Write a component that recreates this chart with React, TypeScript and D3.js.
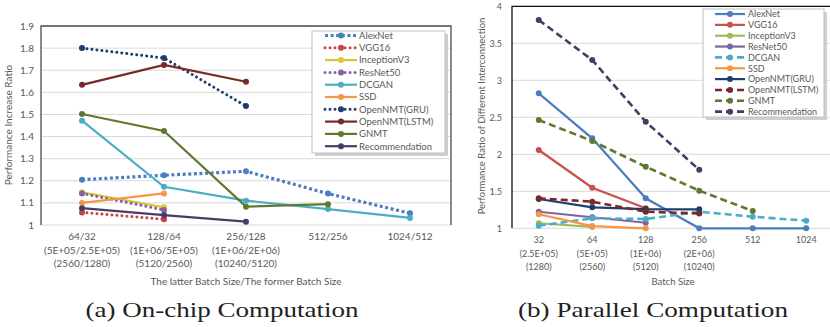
import React, { useRef, useEffect } from 'react';
import * as d3 from 'd3';

// ---- data ----
const seriesNames = ['AlexNet', 'VGG16', 'InceptionV3', 'ResNet50', 'DCGAN', 'SSD',
  'OpenNMT(GRU)', 'OpenNMT(LSTM)', 'GNMT', 'Recommendation'];

const chipCategories = ['64/32', '128/64', '256/128', '512/256', '1024/512'];
const chipSub1 = ['(5E+05/2.5E+05)', '(1E+06/5E+05)', '(1E+06/2E+06)', '', ''];
const chipSub2 = ['(2560/1280)', '(5120/2560)', '(10240/5120)', '', ''];
const chipTicks = [1, 1.1, 1.2, 1.3, 1.4, 1.5, 1.6, 1.7, 1.8, 1.9];

const chipAlexNet = [1.205, 1.225, 1.243, 1.142, 1.053];
const chipVGG16 = [1.057, 1.026];
const chipInception = [1.148, 1.08];
const chipResNet = [1.143, 1.068];
const chipDCGAN = [1.472, 1.173, 1.11, 1.072, 1.032];
const chipSSD = [1.1, 1.143];
const chipGRU = [1.8, 1.755, 1.538];
const chipLSTM = [1.634, 1.724, 1.648];
const chipGNMT = [1.502, 1.425, 1.083, 1.094];
const chipRecommend = [1.076, 1.045, 1.015];

const parCategories = ['32', '64', '128', '256', '512', '1024'];
const parSub1 = ['(2.5E+05)', '(5E+05)', '(1E+06)', '(2E+06)', '', ''];
const parSub2 = ['(1280)', '(2560)', '(5120)', '(10240)', '', ''];
const parTicks = [1, 1.5, 2, 2.5, 3, 3.5, 4];

const parAlexNet = [2.824, 2.216, 1.405, 1.0, 1.0, 1.0];
const parVGG16 = [2.058, 1.549, 1.27];
const parInception = [1.068, 1.018];
const parResNet = [1.224, 1.149, 1.075];
const parDCGAN = [1.035, 1.135, 1.126, 1.224, 1.157, 1.103];
const parSSD = [1.19, 1.03, 1.0];
const parGRU = [1.396, 1.284, 1.26, 1.257];
const parLSTM = [1.405, 1.36, 1.224, 1.2];
const parGNMT = [2.463, 2.18, 1.832, 1.508, 1.234];
const parRecommend = [3.815, 3.274, 2.44, 1.79];

const FONT = 'Lato, "Open Sans", sans-serif';
const TEXT = '#595959';

/**
 * Draw one line-chart panel (frame, grid, axes, lines, legend)
 */
function drawPanel(svg, cfg) {
  const { left, top, bandW, nCat, bottom, domain, ticks, tickFmt } = cfg;
  const x = d3.scaleBand().domain(d3.range(nCat)).range([left, left + bandW * nCat]);
  const y = d3.scaleLinear().domain(domain).range([bottom, top]);
  const cx = (i) => x(i) + x.bandwidth() / 2;
  const g = svg.append('g');

  // grid
  g.selectAll('line.grid')
    .data(ticks)
    .join('line')
    .attr('x1', left).attr('x2', cfg.right)
    .attr('y1', d => y(d)).attr('y2', d => y(d))
    .attr('stroke', '#d9d9d9').attr('stroke-width', 1);

  // frame
  g.append('path')
    .attr('d', `M${left},${bottom}V${top}H${cfg.right}` + (cfg.rightBorder ? `V${bottom}` : ''))
    .attr('fill', 'none').attr('stroke', cfg.frameColor).attr('stroke-width', 1.3);

  // y tick labels
  g.selectAll('text.yt')
    .data(ticks)
    .join('text')
    .attr('x', cfg.yLabelX).attr('y', d => y(d) + 3.5)
    .attr('text-anchor', 'end')
    .style('font-family', FONT).style('font-size', cfg.tickSize + 'px').attr('fill', TEXT)
    .text(tickFmt);

  // x tick labels
  const rows = [cfg.categories, cfg.sub1, cfg.sub2];
  rows.forEach((row, r) => {
    g.selectAll(`text.xt${r}`)
      .data(row)
      .join('text')
      .attr('x', (d, i) => cx(i))
      .attr('y', cfg.xLabelY[r])
      .attr('text-anchor', 'middle')
      .style('font-family', FONT).style('font-size', cfg.tickSize + 'px').attr('fill', TEXT)
      .text(d => d);
  });

  // axis titles
  g.append('text')
    .attr('x', cfg.xTitle[0]).attr('y', cfg.xTitle[1])
    .attr('text-anchor', 'middle')
    .style('font-family', FONT).style('font-size', cfg.titleSize + 'px').attr('fill', TEXT)
    .text(cfg.xTitleText);
  g.append('text')
    .attr('transform', `translate(${cfg.yTitle[0]},${cfg.yTitle[1]}) rotate(-90)`)
    .attr('text-anchor', 'middle')
    .style('font-family', FONT).style('font-size', cfg.titleSize + 'px').attr('fill', TEXT)
    .text(cfg.yTitleText);

  // caption
  g.append('text')
    .attr('x', cfg.caption[0]).attr('y', cfg.caption[1])
    .attr('text-anchor', 'middle')
    .attr('textLength', cfg.caption[2]).attr('lengthAdjust', 'spacingAndGlyphs')
    .style('font-family', '"Liberation Serif", serif').style('font-size', '21px').attr('fill', '#222')
    .text(cfg.captionText);

  // lines
  const line = d3.line().x((d, i) => cx(i)).y(d => y(d));
  cfg.series.forEach(s => {
    const ls = g.append('g');
    ls.append('path')
      .attr('d', line(s.values))
      .attr('fill', 'none')
      .attr('stroke', s.color)
      .attr('stroke-width', s.width)
      .attr('stroke-dasharray', s.dash || null)
      .attr('stroke-linecap', s.cap || 'butt');
    ls.selectAll('circle')
      .data(s.values)
      .join('circle')
      .attr('cx', (d, i) => cx(i)).attr('cy', d => y(d))
      .attr('r', cfg.markerR).attr('fill', s.color);
  });

  // legend
  const L = cfg.legend;
  const lg = svg.append('g');
  lg.append('rect')
    .attr('x', L.x + 3).attr('y', L.y + 3).attr('width', L.w).attr('height', L.h)
    .attr('fill', '#cfcfcf');
  lg.append('rect')
    .attr('x', L.x).attr('y', L.y).attr('width', L.w).attr('height', L.h)
    .attr('fill', 'white').attr('stroke', '#bfbfbf');
  cfg.series.forEach((s, i) => {
    const yy = L.firstY + i * L.step;
    lg.append('line')
      .attr('x1', L.sx1).attr('x2', L.sx2).attr('y1', yy).attr('y2', yy)
      .attr('stroke', s.color).attr('stroke-width', s.width)
      .attr('stroke-dasharray', s.dash || null)
      .attr('stroke-linecap', s.cap || 'butt');
    lg.append('circle')
      .attr('cx', (L.sx1 + L.sx2) / 2).attr('cy', yy).attr('r', cfg.markerR)
      .attr('fill', s.color);
    lg.append('text')
      .attr('x', L.tx).attr('y', yy + 3.3)
      .style('font-family', FONT).style('font-size', L.size + 'px').attr('fill', TEXT)
      .text(s.name);
  });
}

const App = () => {
  const ref = useRef(null);

  useEffect(() => {
    const svg = d3.select(ref.current);
    svg.selectAll('*').remove();

    const sq = '3,2.6';
    const dot = '0.01,5';
    const dash = '7,4';

    const chipColors = ['#4a7ebf', '#c8433f', '#d4c83a', '#8064a2', '#4bacc6', '#f79646',
      '#1f3d6b', '#7a2a26', '#5f7a2e', '#4a3b66'];
    const chipValues = [chipAlexNet, chipVGG16, chipInception, chipResNet, chipDCGAN, chipSSD,
      chipGRU, chipLSTM, chipGNMT, chipRecommend];
    const chipDash = [sq, dot, null, dot, null, null, dot, null, null, null];
    const chipSeries = seriesNames.map((name, i) => ({
      name,
      values: chipValues[i],
      color: chipColors[i],
      dash: chipDash[i],
      cap: chipDash[i] === dot ? 'round' : 'butt',
      width: chipDash[i] === dot ? 3 : (i === 0 ? 3.2 : 2.2),
    }));

    drawPanel(svg, {
      left: 41, right: 451, top: 26, bottom: 225, bandW: 82, nCat: 5,
      domain: [1, 1.9], ticks: chipTicks, tickFmt: d => d3.format('~g')(d),
      frameColor: '#4d4d4d', rightBorder: true,
      yLabelX: 34, tickSize: 10, titleSize: 10,
      categories: chipCategories, sub1: chipSub1, sub2: chipSub2,
      xLabelY: [240, 254, 267],
      xTitle: [246, 285], xTitleText: 'The latter Batch Size/The former Batch Size',
      yTitle: [12, 125], yTitleText: 'Performance Increase Ratio',
      caption: [222, 317, 273], captionText: '(a) On-chip Computation',
      markerR: 3,
      series: chipSeries,
      legend: { x: 312, y: 31, w: 133, h: 122, firstY: 35.5, step: 12.3,
        sx1: 325, sx2: 357, tx: 359, size: 9.5 },
    });

    const parColors = ['#4a7ebf', '#c8504d', '#9bbb59', '#8064a2', '#4bacc6', '#f79646',
      '#1f3d6b', '#7a2a26', '#5f7a2e', '#4a3b66'];
    const parValues = [parAlexNet, parVGG16, parInception, parResNet, parDCGAN, parSSD,
      parGRU, parLSTM, parGNMT, parRecommend];
    const parDashed = [false, false, false, false, true, false, false, true, true, true];
    const parSeries = seriesNames.map((name, i) => ({
      name,
      values: parValues[i],
      color: parColors[i],
      dash: parDashed[i] ? dash : null,
      width: parDashed[i] ? 2.6 : 2.2,
    }));

    drawPanel(svg, {
      left: 512, right: 833, top: 6.3, bottom: 228.3, bandW: 53.5, nCat: 6,
      domain: [1, 4], ticks: parTicks, tickFmt: d => d3.format('~g')(d),
      frameColor: '#111', rightBorder: false,
      yLabelX: 502, tickSize: 9, titleSize: 9.5,
      categories: parCategories, sub1: parSub1, sub2: parSub2,
      xLabelY: [242.5, 257, 270],
      xTitle: [673, 285], xTitleText: 'Batch Size',
      yTitle: [485, 116], yTitleText: 'Performance Ratio of Different Interconnection',
      caption: [653, 317, 270], captionText: '(b) Parallel Computation',
      markerR: 3,
      series: parSeries,
      legend: { x: 703, y: 9, w: 121, h: 108, firstY: 14, step: 10.85,
        sx1: 715, sx2: 745, tx: 748, size: 9 },
    });
  }, []);

  return (
    <svg
      ref={ref}
      width={830}
      height={327}
      style={{ position: 'absolute', left: 0, top: 0, background: 'white' }}
    />
  );
};

export default App;
